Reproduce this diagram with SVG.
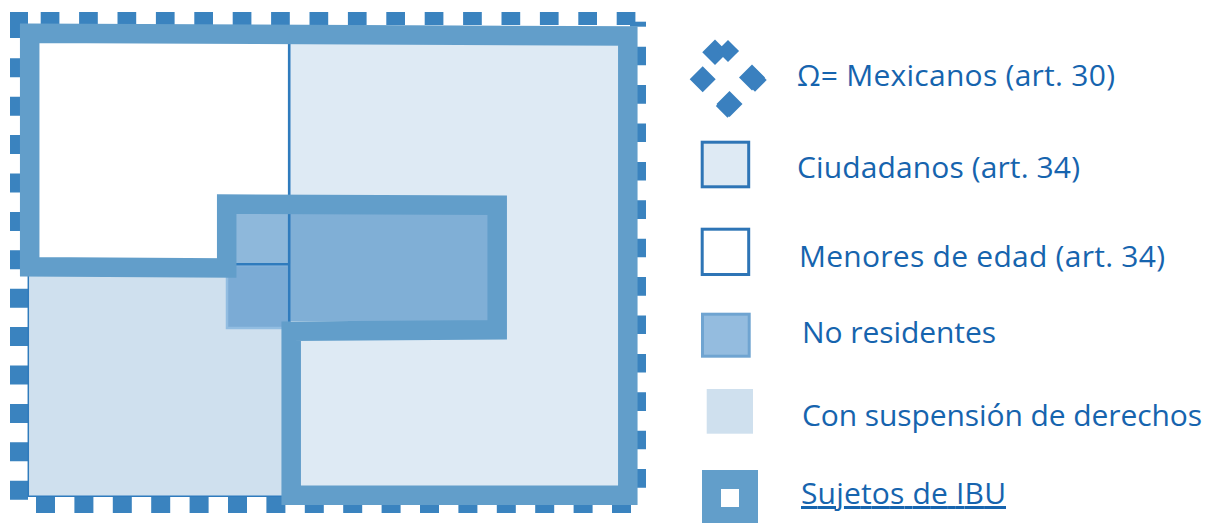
<svg xmlns="http://www.w3.org/2000/svg" width="1208" height="523" viewBox="0 0 1208 523">
  <style>
    .dash { stroke: #3A83BF; fill: none; }
    .frame { fill: none; stroke: #629ECA; stroke-width: 19.5; stroke-linejoin: miter; }
    .thin { stroke: #2F7BBD; stroke-width: 2.6; fill: none; }
    .lbl { font-family: "Open Sans", Lato, sans-serif; font-size: 30px; fill: #1664AE; }
    .dia { fill: #3A80BF; }
  </style>
  <defs>
    <path id="dm" d="M0,-13 L13,0 L0,13 L-13,0Z"/>
  </defs>
  <rect width="1208" height="523" fill="#FFFFFF"/>

  <g id="outer-border">
    <line class="dash" x1="40.7" y1="18.5" x2="646" y2="18.5" stroke-width="13" stroke-dasharray="18.7 19.7"/>
    <line class="dash" x1="19" y1="58.3" x2="19" y2="500" stroke-width="18" stroke-dasharray="19 19.4"/>
    <rect x="10" y="12" width="18" height="26" fill="#3A83BF"/>
    <line class="dash" x1="36" y1="504" x2="640" y2="504" stroke-width="18" stroke-dasharray="19 19.4"/>
    <line class="dash" x1="637.5" y1="46.7" x2="637.5" y2="500" stroke-width="17" stroke-dasharray="18.6 19.8"/>
    <rect x="630" y="21.7" width="16" height="5" fill="#3A83BF"/>
  </g>

  <g id="con-suspension-region">
    <rect x="28" y="268" width="263" height="228" fill="#CFE0EE"/>
    <line x1="28.3" y1="272" x2="28.3" y2="496.5" stroke="#2F7BBD" stroke-width="1.5"/>
    <line x1="28" y1="496.3" x2="290" y2="496.3" stroke="#2F7BBD" stroke-width="1.5"/>
  </g>

  <g id="ciudadanos-region">
    <path d="M29.7,33.3 L627.8,35.9 L627.8,495.3 L291.2,495.3 L291.2,331.2 L497.2,329.7 L497.2,205.3 L226.7,204 L226.7,268 L29.7,266.7 Z" fill="#DEEAF4"/>
  </g>

  <g id="menores-region">
    <rect x="29.7" y="33.3" width="259" height="234" fill="#FFFFFF"/>
  </g>

  <g id="no-residentes-region">
    <rect x="289" y="213" width="200" height="108" fill="#80AFD6"/>
    <rect x="235" y="213" width="54" height="51" fill="#8EB8DB"/>
    <rect x="227" y="265" width="62" height="63" fill="#7BABD5" stroke="#92BDE1" stroke-width="2.5"/>
  </g>

  <g id="dividers">
    <line class="thin" x1="289.2" y1="40" x2="289.2" y2="322"/>
    <line class="thin" x1="234" y1="264.3" x2="289" y2="264.3"/>
  </g>

  <g id="sujetos-ibu-frame">
    <path class="frame" d="M29.7,33.3 L627.8,35.9 L627.8,495.3 L291.2,495.3 L291.2,331.2 L497.2,329.7 L497.2,205.3 L226.7,204 L226.7,268 L29.7,266.7 Z"/>
  </g>

  <g id="legend-mexicanos">
    <use href="#dm" class="dia" transform="translate(715,52.3) scale(0.98)"/>
    <use href="#dm" class="dia" transform="translate(728,51) scale(0.85)"/>
    <use href="#dm" class="dia" transform="translate(702.7,79.3)"/>
    <use href="#dm" class="dia" transform="translate(752,77.5)"/>
    <use href="#dm" class="dia" transform="translate(755,80) scale(0.9)"/>
    <use href="#dm" class="dia" transform="translate(729.5,104)"/>
    <use href="#dm" class="dia" transform="translate(727.5,106) scale(0.9)"/>
    <text class="lbl" x="797" y="86" textLength="318" lengthAdjust="spacing">Ω= Mexicanos (art. 30)</text>
  </g>

  <g id="legend-ciudadanos">
    <rect x="702.2" y="142.2" width="46.5" height="44.6" fill="#DEEAF4" stroke="#2E75B6" stroke-width="3"/>
    <text class="lbl" x="797" y="178.3" textLength="283" lengthAdjust="spacing">Ciudadanos (art. 34)</text>
  </g>

  <g id="legend-menores">
    <rect x="702.2" y="229.2" width="46.5" height="45.3" fill="#FFFFFF" stroke="#2E75B6" stroke-width="3"/>
    <text class="lbl" x="799" y="266.7" textLength="366" lengthAdjust="spacing">Menores de edad (art. 34)</text>
  </g>

  <g id="legend-no-residentes">
    <rect x="702.5" y="314.2" width="46.7" height="42" fill="#94BCDF" stroke="#6FA4D1" stroke-width="3"/>
    <text class="lbl" x="802" y="343.3" textLength="194" lengthAdjust="spacing">No residentes</text>
  </g>

  <g id="legend-con-suspension">
    <rect x="706.7" y="389" width="46.3" height="44.7" fill="#CFE0EE"/>
    <text class="lbl" x="802" y="426" textLength="400" lengthAdjust="spacing">Con suspensión de derechos</text>
  </g>

  <g id="legend-sujetos">
    <rect x="702" y="470" width="56" height="53" fill="#629ECA"/>
    <rect x="721" y="489" width="18" height="18" fill="#FFFFFF"/>
    <text class="lbl" x="801" y="504" textLength="205" lengthAdjust="spacing" text-decoration="underline">Sujetos de IBU</text>
  </g>
</svg>
